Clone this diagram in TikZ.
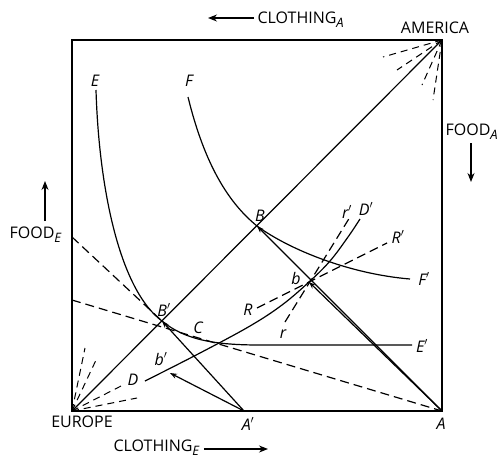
\documentclass[tikz,border=0pt]{standalone}
\usepackage{fontspec}
\setmainfont{Open Sans}
\usetikzlibrary{arrows.meta}
\newcommand{\subl}[1]{\raisebox{-0.5ex}{\fontsize{13}{13}\selectfont\itshape #1}}
\begin{document}
\begin{tikzpicture}[x=1pt,y=-1pt,line width=1.2pt,
  lbl/.style={font=\fontsize{16}{16}\selectfont\itshape, inner sep=0pt},
  capt/.style={font=\fontsize{16}{16}\selectfont, inner sep=0pt},
  dsh/.style={dash pattern=on 9pt off 5pt},
  ray/.style={line width=1pt, dash pattern=on 7pt off 5pt},
  arr/.style={-{Stealth[length=7pt,width=5pt]}},
  axarr/.style={line width=1.2pt,-{Stealth[length=9pt,width=7pt]}}]
\useasboundingbox (0,0) rectangle (500,461);
% key points
\coordinate (EU) at (72,411);
\coordinate (AM) at (442,40);
\coordinate (A) at (442,411);
\coordinate (A1) at (244,411);
\coordinate (B) at (257,226);
\coordinate (B1) at (162,321);
\coordinate (b) at (309,282);
\coordinate (b1) at (170,373);
\coordinate (FE) at (72,237);
\coordinate (FE2) at (72,300);
\coordinate (Eend) at (412,345);
\coordinate (Rs) at (257,308);
\coordinate (Re) at (387,243);
\coordinate (rs) at (285,322);
\coordinate (re) at (350,217);
% box and diagonal
\draw (EU) rectangle (AM);
\draw (EU) -- (AM);
% rays at Europe
\draw[ray] (EU) -- (85,348);
\draw[ray] (EU) -- (97,358);
\draw[ray] (EU) -- (125,384);
\draw[ray] (EU) -- (137,398);
% rays at America
\draw[ray] (AM) -- (383,57);
\draw[ray] (AM) -- (397,70);
\draw[ray] (AM) -- (422,85);
\draw[ray] (AM) -- (433,100);
% dashed price lines
\draw[dsh] (FE) -- (B1);
\draw[dsh] (FE2) -- (A);
% curve E
\draw (96,90) .. controls (99,190) and (120,290) .. (B1)
      .. controls (185,340) and (215,345) .. (260,345) -- (Eend);
% curve F
\draw (188,97) .. controls (203,158) and (225,200) .. (B)
      .. controls (290,250) and (350,274) .. (410,279);
% offer curve D
\draw plot[smooth,tension=0.6] coordinates {(145,381) (200,353) (250,326) (282,305) (b) (330,261) (348,237) (360,219)};
% dashed R and r
\draw[dsh] (Rs) -- (Re);
\draw[dsh] (rs) -- (re);
% arrows
\draw[arr] (A) -- (B);
\draw[arr] (A) -- (b);
\draw[arr] (A1) -- (B1);
\draw[arr] (A1) -- (b1);
% point labels
\node[lbl] (lE) at (95,81) {E};
\node[lbl] (lF) at (189,81) {F};
\node[lbl] (lB) at (260,216) {B};
\node[lbl] (lB1) at (164,310) {B$'$};
\node[lbl] (lC) at (198,328) {C};
\node[lbl] (lb) at (296,278) {b};
\node[lbl] (lb1) at (161,359) {b$'$};
\node[lbl] (lD) at (133,380) {D};
\node[lbl] (lR) at (248,310) {R};
\node[lbl] (lr) at (283,334) {r};
\node[lbl] (lr1) at (347,212) {r$'$};
\node[lbl] (lD1) at (366,209) {D$'$};
\node[lbl] (lR1) at (398,237) {R$'$};
\node[lbl] (lE1) at (422,346) {E$'$};
\node[lbl] (lF1) at (424,279) {F$'$};
\node[lbl] (lA1) at (248,424) {A$'$};
\node[lbl] (lA) at (441,424) {A};
% axis captions
\node[capt] (am) at (435,28) {AMERICA};
\node[capt] (eu) at (82,422) {EUROPE};
\node[capt,anchor=west] (ca) at (257,20) {CLOTHING\subl{A}};
\node[capt,anchor=west] (ce) at (113,448) {CLOTHING\subl{E}};
\node[capt,anchor=west] (fa) at (445,132) {FOOD\subl{A}};
\node[capt,anchor=west] (fe) at (9,235) {FOOD\subl{E}};
\coordinate (caT) at (208,18);
\coordinate (ceT) at (268,449);
\coordinate (faT) at (471,182);
\coordinate (feT) at (45,181);
\draw[axarr] (ca.west) ++(-3,-2) -- (caT);
\draw[axarr] (ce.east) ++(4,1) -- (ceT);
\draw[axarr] (471,143) -- (faT);
\draw[axarr] (45,221) -- (feT);
\end{tikzpicture}
\end{document}
